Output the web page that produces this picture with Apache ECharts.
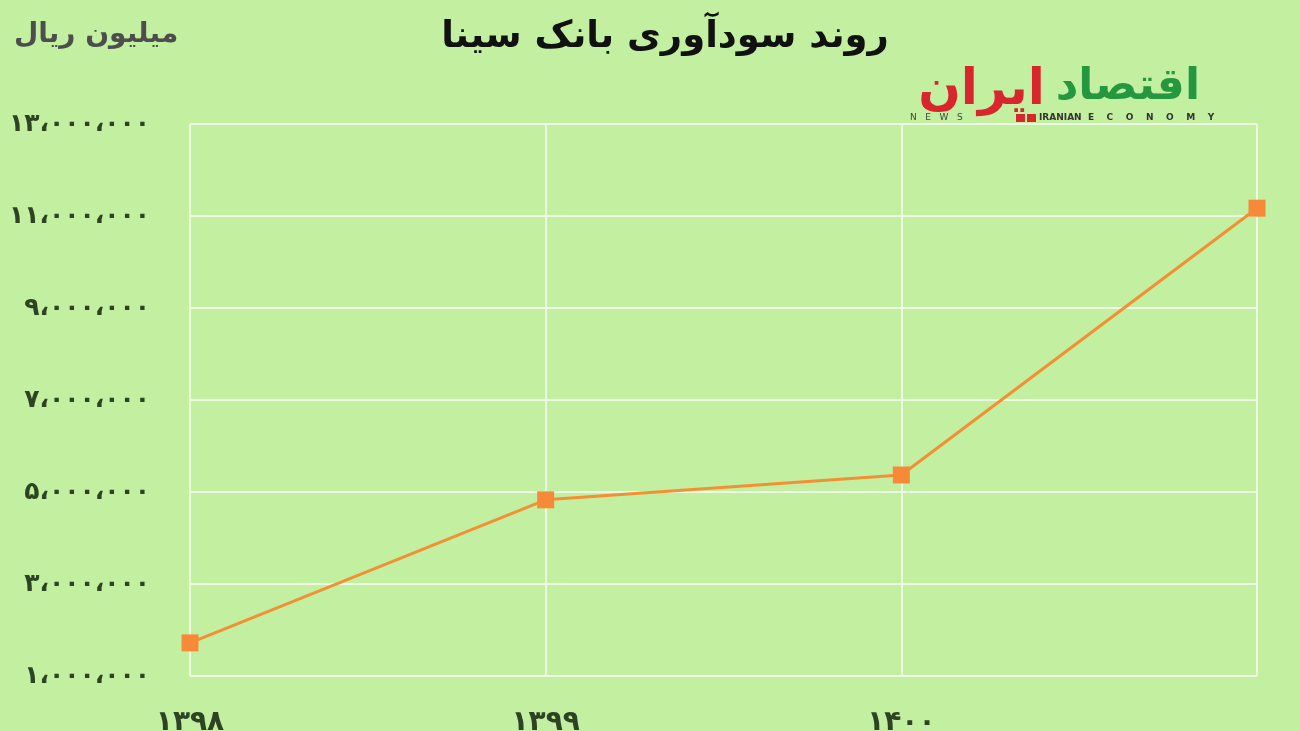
<!DOCTYPE html>
<html>
<head>
<meta charset="utf-8">
<script src="https://cdn.jsdelivr.net/npm/echarts@6/dist/echarts.min.js"></script>
<style>
html,body{margin:0;padding:0;background:#c3efa0;}
#chart{width:1300px;height:731px;}
</style>
</head>
<body>
<div id="chart"></div>
<script>
const years = ['۱۳۹۸', '۱۳۹۹', '۱۴۰۰', '۱۴۰۱'];
const profit = [1720000, 4830000, 5370000, 11170000];
const yMin = 1000000, yMax = 13000000, yStep = 2000000;
const titleText = 'روند سودآوری بانک سینا';
const unitText = 'میلیون ریال';

const faDigits = ['۰','۱','۲','۳','۴','۵','۶','۷','۸','۹'];
function toFa(n) {
  const s = String(Math.round(n)).replace(/\B(?=(\d{3})+(?!\d))/g, ',');
  return s.replace(/\d/g, d => faDigits[+d]).replace(/,/g, '،');
}

const chart = echarts.init(document.getElementById('chart'), null, {renderer: 'canvas'});
chart.setOption({
  backgroundColor: '#c3efa0',
  animation: false,
  title: {
    text: titleText,
    left: 660, top: 14, textAlign: 'center',
    textStyle: {fontFamily: 'DejaVu Sans', fontWeight: 'bold', fontSize: 37, color: '#111'}
  },
  grid: {left: 190, right: 43, top: 124, bottom: 55, containLabel: false, outerBoundsMode: 'none'},
  xAxis: {
    type: 'category', data: years, boundaryGap: false,
    axisLine: {show: false}, axisTick: {show: false},
    axisLabel: {
      showMaxLabel: false, margin: 33,
      fontFamily: 'DejaVu Sans', fontWeight: 'bold', fontSize: 28, color: '#2c4424'
    },
    splitLine: {show: true, lineStyle: {color: '#eef9e4', width: 2}}
  },
  yAxis: {
    type: 'value', min: yMin, max: yMax, interval: yStep,
    axisLine: {show: false}, axisTick: {show: false},
    axisLabel: {
      formatter: v => toFa(v), margin: 40,
      fontFamily: 'DejaVu Sans', fontWeight: 'bold', fontSize: 25, color: '#2c4424'
    },
    splitLine: {show: true, lineStyle: {color: '#eef9e4', width: 2}}
  },
  series: [{
    type: 'line', data: profit,
    symbol: 'rect', symbolSize: 17,
    lineStyle: {color: '#f39035', width: 3},
    itemStyle: {color: '#f78a38'}
  }],
  graphic: [
    {type: 'text', left: 14, top: 21,
     style: {text: unitText, font: 'bold 28px "DejaVu Sans"', fill: '#4d4d4d'}},
    {type: 'text', right: 100, top: 66,
     style: {text: 'اقتصاد', font: 'bold 44px "DejaVu Sans"', fill: '#25983f'}},
    {type: 'text', right: 255, top: 66,
     style: {text: 'ایران', font: 'bold 50px "DejaVu Sans"', fill: '#d7262c'}},
    {type: 'text', left: 910, top: 113,
     style: {text: 'N   E   W   S', font: '9px "DejaVu Sans"', fill: '#444'}},
    {type: 'rect', shape: {x: 1016, y: 114, width: 9, height: 8}, style: {fill: '#d7262c'}},
    {type: 'rect', shape: {x: 1027, y: 114, width: 9, height: 8}, style: {fill: '#d7262c'}},
    {type: 'text', left: 1039, top: 113,
     style: {text: 'IRANIAN  E    C    O    N    O    M    Y', font: 'bold 9px "DejaVu Sans"', fill: '#333'}}
  ]
});
</script>
</body>
</html>
